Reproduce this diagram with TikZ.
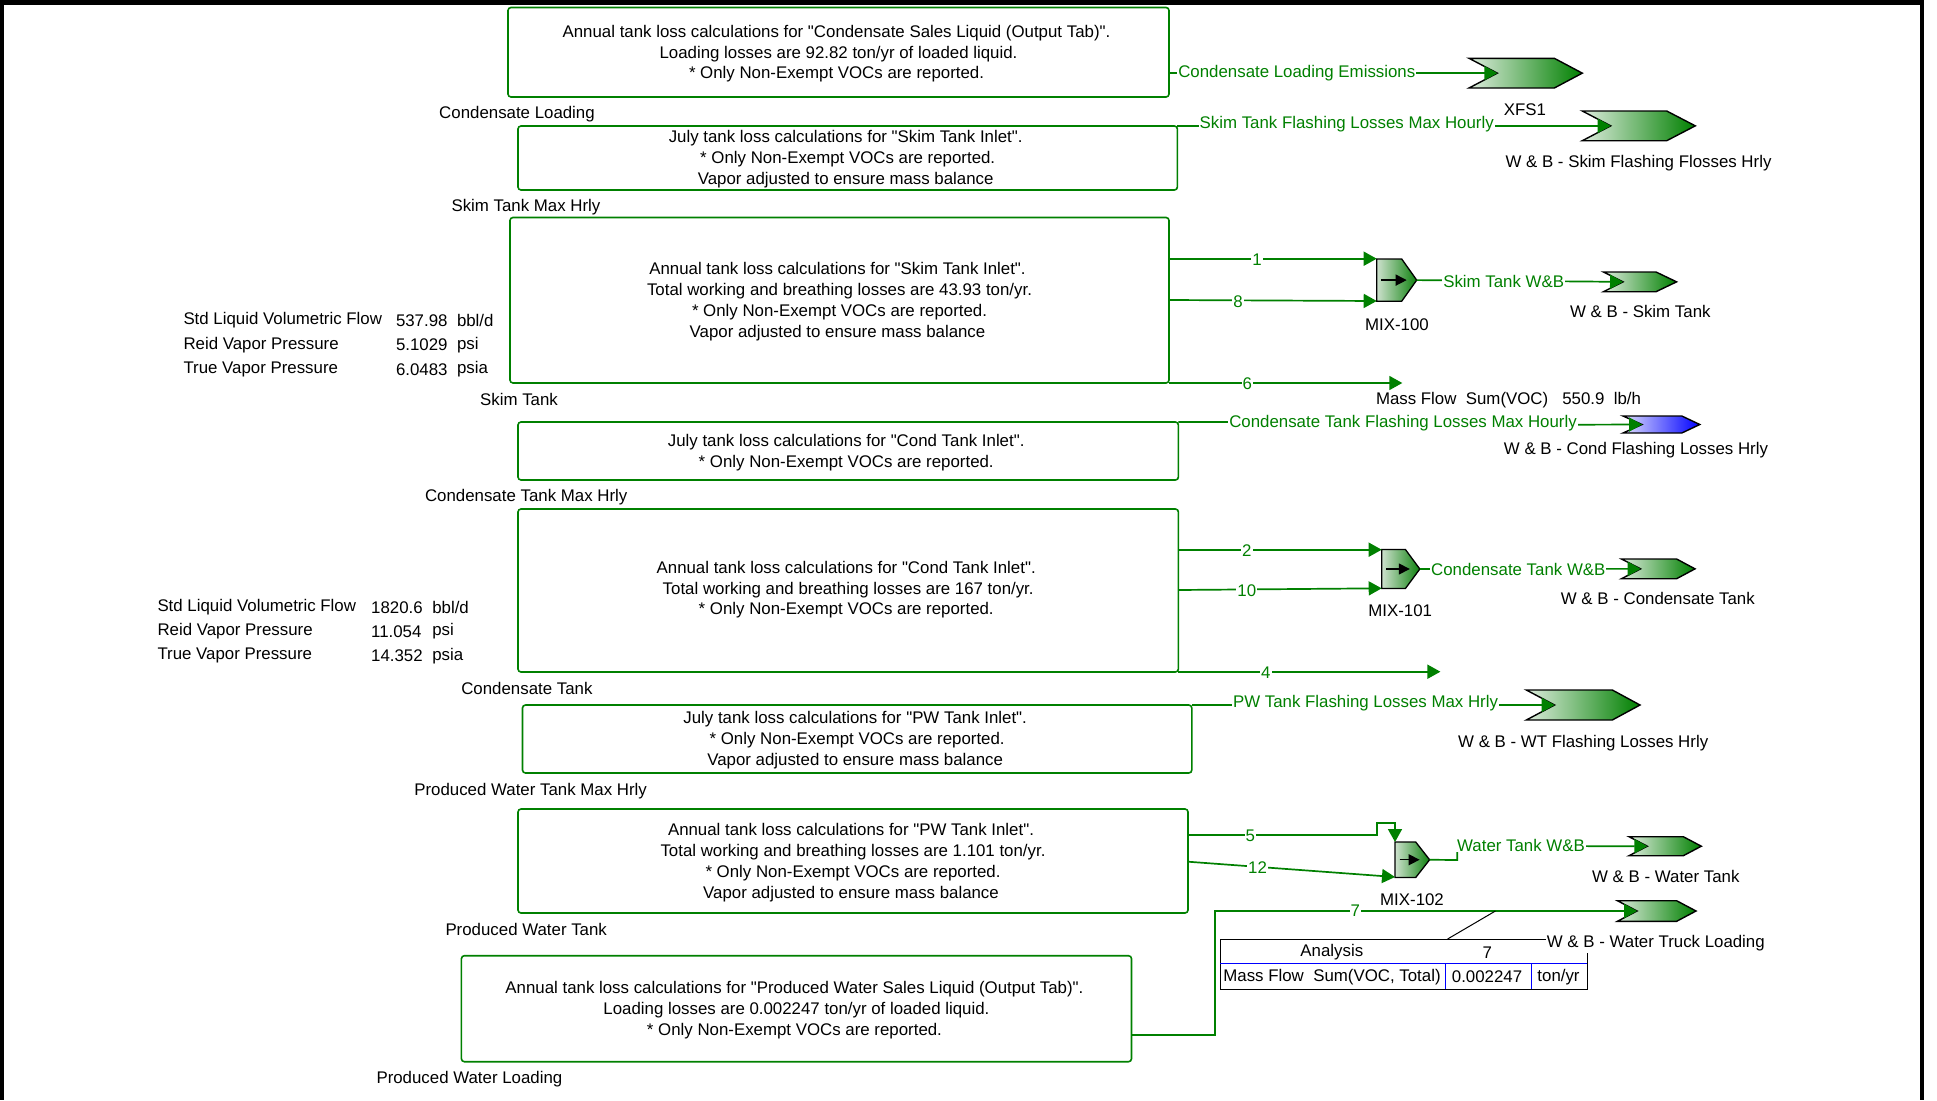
\documentclass[tikz,border=0pt]{standalone}
\usepackage{fontspec}
\newfontfamily\plainarial{Liberation Sans}
\usetikzlibrary{arrows.meta}
\definecolor{pgreen}{RGB}{0,128,0}
\definecolor{plight}{RGB}{222,236,222}
\definecolor{pblue}{RGB}{0,0,255}
\definecolor{plblue}{RGB}{222,222,252}
\definecolor{mixl}{RGB}{205,225,205}
\definecolor{mixr}{RGB}{15,130,15}
\tikzset{
  x=1pt,y=-1pt,
  every node/.style={font=\plainarial\fontsize{16.85}{20.9}\selectfont,inner sep=0pt,outer sep=0pt},
  note/.style={draw=pgreen,line width=1.6pt,rounded corners=3pt,align=center,fill=white},
  lab/.style={text=black,yshift=-1.2pt},
  flowlab/.style={text=pgreen,fill=white,inner xsep=1pt,inner ysep=0.5pt,yshift=-1.2pt},
  prop/.style={text=black,anchor=west,yshift=-1.2pt},
  flow/.style={draw=pgreen,line width=1.7pt},
  flowarrow/.style={flow,-{Triangle[length=13pt,width=14pt,fill=pgreen]}},
  tline/.style={draw=black,line width=1pt},
  bline/.style={draw=blue,line width=1pt},
}
% \chev{name}{x0}{notch}{shoulder}{x1}{ytop}{ybot}{light}{dark}
\newcommand{\chev}[9]{%
  \path[draw=black,line width=1.4pt,line join=miter,left color=#8,right color=#9]
    (#2,#6) -- (#4,#6) -- (#5,{(#6+#7)/2}) -- (#4,#7) -- (#2,#7) -- (#3,{(#6+#7)/2}) -- cycle;
  \coordinate (#1) at (#3,{(#6+#7)/2});
}
% \mixer{name}{x0}{shoulder}{x1}{ytop}{ybot}
\newcommand{\mixer}[6]{%
  \path[draw=black,line width=1.3pt,left color=mixl,right color=mixr]
    (#2,#5) -- (#3,#5) -- (#4,{(#5+#6)/2}) -- (#3,#6) -- (#2,#6) -- cycle;
  \coordinate (#1) at (#4,{(#5+#6)/2});
  \draw[draw=black,line width=1.4pt,-{Triangle[length=11pt,width=11pt]}] (#2+4.5,{(#5+#6)/2}) -- (#4-10,{(#5+#6)/2});
}
\newcommand{\nl}{\hspace*{4pt}\\}
\newcommand{\note}[6]{%
  \node[note,minimum width=#4-#2,minimum height=#5-#3] (#1) at ({(#2+#4)/2},{(#3+#5)/2}) {\rule{0pt}{15pt}#6\hspace*{4pt}};
}
\begin{document}
\begin{tikzpicture}
\useasboundingbox (0,0) rectangle (1937,1100);
\fill[white] (0,0) rectangle (1937,1100);

% boxes
\note{bcl}{508}{7.5}{1169}{97}{Annual tank loss calculations for "Condensate Sales Liquid (Output Tab)".\nl Loading losses are 92.82 ton/yr of loaded liquid.\nl * Only Non-Exempt VOCs are reported.}
\note{bsm}{518}{126}{1177.4}{190}{July tank loss calculations for "Skim Tank Inlet".\nl * Only Non-Exempt VOCs are reported.\nl Vapor adjusted to ensure mass balance}
\note{bst}{510}{217.5}{1169}{383}{Annual tank loss calculations for "Skim Tank Inlet".\nl Total working and breathing losses are 43.93 ton/yr.\nl * Only Non-Exempt VOCs are reported.\nl Vapor adjusted to ensure mass balance}
\note{bcm}{518}{422}{1178.4}{480}{July tank loss calculations for "Cond Tank Inlet".\nl * Only Non-Exempt VOCs are reported.}
\note{bct}{518}{509}{1178.4}{672}{Annual tank loss calculations for "Cond Tank Inlet".\nl Total working and breathing losses are 167 ton/yr.\nl * Only Non-Exempt VOCs are reported.\rule[-8pt]{0pt}{8pt}}
\note{bpm}{522.5}{705}{1191.8}{773}{July tank loss calculations for "PW Tank Inlet".\nl * Only Non-Exempt VOCs are reported.\nl Vapor adjusted to ensure mass balance}
\note{bpt}{518}{809}{1188}{913}{Annual tank loss calculations for "PW Tank Inlet".\nl Total working and breathing losses are 1.101 ton/yr.\nl * Only Non-Exempt VOCs are reported.\nl Vapor adjusted to ensure mass balance}
\note{bpl}{461.4}{955.7}{1131.5}{1061.7}{Annual tank loss calculations for "Produced Water Sales Liquid (Output Tab)".\nl Loading losses are 0.002247 ton/yr of loaded liquid.\nl * Only Non-Exempt VOCs are reported.}

% box captions
\node[lab] (lcl) at (517,113) {Condensate Loading};
\node[lab] (lsm) at (526,206) {Skim Tank Max Hrly};
\node[lab] (lst) at (519,398.3) {Skim Tank};
\node[lab] (lcm) at (526.2,496) {Condensate Tank Max Hrly};
\node[lab] (lct) at (526.9,686.8) {Condensate Tank};
\node[lab] (lpm) at (530.6,790) {Produced Water Tank Max Hrly};
\node[lab] (lpt) at (526.2,928.5) {Produced Water Tank};
\node[lab] (lpl) at (469.4,1078) {Produced Water Loading};

% property tables
\node[prop] (p1a) at (183.5,319) {Std Liquid Volumetric Flow};
\node[prop] (p1b) at (396,319) {537.98};
\node[prop] (p1c) at (457,319) {bbl/d};
\node[prop] (p2a) at (183.5,343.5) {Reid Vapor Pressure};
\node[prop] (p2b) at (396,343.5) {5.1029};
\node[prop] (p2c) at (457,343.5) {psi};
\node[prop] (p3a) at (183.5,368) {True Vapor Pressure};
\node[prop] (p3b) at (396,368) {6.0483};
\node[prop] (p3c) at (457,368) {psia};
\node[prop] (q1a) at (157.5,606) {Std Liquid Volumetric Flow};
\node[prop] (q1b) at (371.2,606) {1820.6};
\node[prop] (q1c) at (432.3,606) {bbl/d};
\node[prop] (q2a) at (157.5,630) {Reid Vapor Pressure};
\node[prop] (q2b) at (371.2,630) {11.054};
\node[prop] (q2c) at (432.3,630) {psi};
\node[prop] (q3a) at (157.5,654.5) {True Vapor Pressure};
\node[prop] (q3b) at (371.2,654.5) {14.352};
\node[prop] (q3c) at (432.3,654.5) {psia};

% chevrons and mixers
\chev{xfs}{1469}{1497.3}{1554.3}{1582.3}{58.3}{88}{plight}{pgreen}
\chev{wsf}{1582.3}{1610.7}{1666.7}{1695.3}{111}{140.7}{plight}{pgreen}
\chev{wst}{1603.5}{1623}{1656}{1676.6}{272}{291.7}{plight}{pgreen}
\chev{wcf}{1623}{1642}{1681.8}{1699.8}{416}{433}{plblue}{pblue}
\chev{wct}{1621.5}{1640.6}{1676.6}{1695}{559}{578.7}{plight}{pgreen}
\chev{wwf}{1526.3}{1554.6}{1612.3}{1640}{690}{720}{plight}{pgreen}
\chev{wwt}{1629}{1647.3}{1683.3}{1701.3}{836.7}{855.7}{plight}{pgreen}
\chev{wtl}{1617.4}{1637}{1676.6}{1696}{900.7}{921.3}{plight}{pgreen}
\mixer{mx0}{1376.7}{1401.7}{1416.7}{259}{301.2}
\mixer{mx1}{1381.7}{1405.4}{1419.8}{549.5}{588.5}
\mixer{mx2}{1395}{1415.7}{1429.6}{842}{877.5}

% named flow end points
\coordinate (e6) at (1402.3,383);
\coordinate (e4) at (1440.4,671.7);
\coordinate (m2top) at (1395,842);

% connectors
\draw[flowarrow] (bcl.east |- xfs) -- (xfs);
\draw[flowarrow] (bsm.east |- wsf) -- (wsf);
\draw[flowarrow] (mx0) -- (wst);
\draw[flowarrow] (bcm.east |- 0,422) -- (1300,422) -- (1576.8,424.7) -- (wcf);
\draw[flowarrow] (mx1) -- (wct);
\draw[flowarrow] (bpm.east |- wwf) -- (wwf);
\draw[flow] (mx2) -- (1457.3,860) -- (1457.3,846);
\draw[flowarrow] (1457.3,846) -- (wwt);
\draw[flowarrow] (bst.east |- 0,258.7) -- (1376.7,258.7);
\draw[flowarrow] (bst.east |- 0,300) -- (1376.7,301);
\draw[flowarrow] (bst.east |- e6) -- (e6);
\draw[flowarrow] (bct.east |- 0,549.7) -- (1381.7,549.7);
\draw[flowarrow] (bct.east |- 0,590) -- (1381.7,588.3);
\draw[flowarrow] (bct.east |- e4) -- (e4);
\draw[flowarrow] (bpt.east |- 0,835) -- (1377,835) -- (1377,822.7) -- (1395,822.7) -- (m2top);
\draw[flowarrow] (bpt.east |- 0,861.7) -- (1395,877);
\draw[flowarrow] (bpl.east |- 0,1035) -- (1215,1035) -- (1215,911) -- (wtl);

% flow labels
\node[flowlab] (f1) at (1296.8,72) {Condensate Loading Emissions};
\node[flowlab] (f2) at (1346.7,123) {Skim Tank Flashing Losses Max Hourly};
\node[flowlab] (f3) at (1503.7,279.8) {Skim Tank W\&B};
\node[flowlab] (f4) at (1403,422) {Condensate Tank Flashing Losses Max Hourly};
\node[flowlab] (f5) at (1518.3,567.8) {Condensate Tank W\&B};
\node[flowlab] (f6) at (1365.5,702) {PW Tank Flashing Losses Max Hrly};
\node[flowlab] (f7) at (1521,843.8) {Water Tank W\&B};
\node[flowlab] (n1) at (1257,258.7) {1};
\node[flowlab] (n8) at (1238,300) {8};
\node[flowlab] (n6) at (1247.4,382) {6};
\node[flowlab] (n2) at (1246.8,549) {2};
\node[flowlab] (n10) at (1246.8,589) {10};
\node[flowlab] (n4) at (1265.9,671) {4};
\node[flowlab] (n5) at (1250.4,834.5) {5};
\node[flowlab] (n12) at (1257.6,866) {12};
\node[flowlab] (n7) at (1355.4,909.5) {7};

% equipment captions
\node[lab] (lxfs) at (1525,108) {XFS1};
\node[lab] (lwsf) at (1638.5,162) {W \& B - Skim Flashing Flosses Hrly};
\node[lab] (lwst) at (1640.3,310.5) {W \& B - Skim Tank};
\node[lab] (lwcf) at (1636,448.7) {W \& B - Cond Flashing Losses Hrly};
\node[lab] (lwct) at (1657.8,597.4) {W \& B - Condensate Tank};
\node[lab] (lwwf) at (1583.2,741.7) {W \& B - WT Flashing Losses Hrly};
\node[lab] (lwwt) at (1665.8,874.8) {W \& B - Water Tank};
\node[lab] (lm0) at (1396.9,323) {MIX-100};
\node[lab] (lm1) at (1400.2,609.5) {MIX-101};
\node[lab] (lm2) at (1412,898.8) {MIX-102};
\node[lab] (lmass) at (1508.5,399) {Mass Flow\ \ Sum(VOC)\ \ \ 550.9\ \ lb/h};

% analysis table
\coordinate (tapex) at (1495.4,911);
\coordinate (ttop) at (1447.6,939);
\draw[tline] (tapex) -- (ttop);
\draw[tline] (1220,939) -- (1552,939);
\draw[tline] (1220,939) -- (1220,989) -- (1587,989) -- (1587,953);
\draw[bline] (1220,963.3) -- (1587,963.3);
\draw[bline] (1445,963.3) -- (1445,989);
\draw[bline] (1531.5,963.3) -- (1531.5,989);
\node[lab] (t1) at (1331.8,951) {Analysis};
\node[lab] (t2) at (1487.2,951) {7};
\node[lab] (t3) at (1332,975.5) {Mass Flow\ \ Sum(VOC, Total)};
\node[lab] (t4) at (1487,975.5) {0.002247};
\node[lab] (t5) at (1558.5,975.5) {ton/yr};
\node[lab,fill=white,inner xsep=1pt] (lwtl) at (1655.8,941.7) {W \& B - Water Truck Loading};

% frame
\fill[black] (0,0) rectangle (1924,4.7);
\fill[black] (0,0) rectangle (4,1100);
\fill[black] (1919.7,0) rectangle (1924,1100);
\end{tikzpicture}
\end{document}
